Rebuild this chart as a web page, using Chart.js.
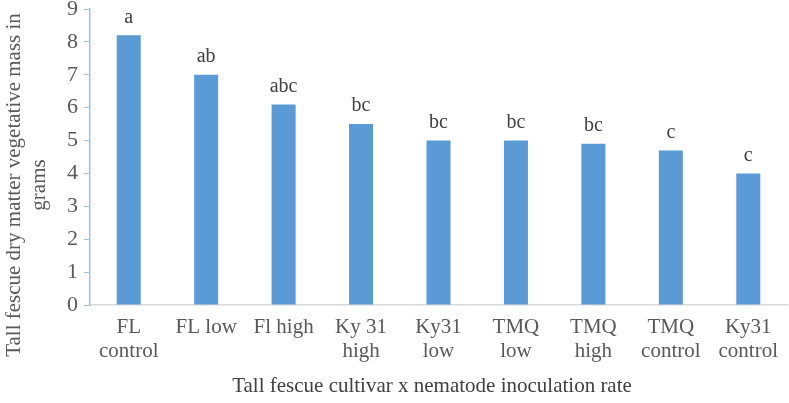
<!DOCTYPE html>
<html>
<head>
<meta charset="utf-8">
<script src="https://cdn.jsdelivr.net/npm/chart.js@4"></script>
<style>
  body { margin: 0; background: #fff; }
  #wrap { width: 789px; height: 403px; position: relative; }
</style>
</head>
<body>
<div id="wrap"><canvas id="chartCanvas"></canvas></div>
<script>
// data
var categories = [['FL', 'control'], 'FL low', 'Fl high', ['Ky 31', 'high'], ['Ky31', 'low'],
                  ['TMQ', 'low'], ['TMQ', 'high'], ['TMQ', 'control'], ['Ky31', 'control']]
var massValues = [8.2, 7.0, 6.1, 5.5, 5.0, 5.0, 4.9, 4.7, 4.0]
var letters = ['a', 'ab', 'abc', 'bc', 'bc', 'bc', 'bc', 'c', 'c']
var yTitle = ['Tall fescue dry matter vegetative mass in', 'grams']
var xTitle = 'Tall fescue cultivar x nematode inoculation rate'

var serif = '"Liberation Serif", "Times New Roman", serif'

// letters over bars + axis titles
var textPlugin = {
    id: 'textPlugin',
    afterDatasetsDraw(chart) {
        var ctx = chart.ctx
        var bars = chart.getDatasetMeta(0).data
        ctx.save()
        ctx.font = '20px ' + serif
        ctx.fillStyle = '#404040'
        ctx.textAlign = 'center'
        ctx.textBaseline = 'middle'
        bars.forEach((bar, i) => {
            ctx.fillText(letters[i], bar.x, bar.y - 18)
        })
        ctx.restore()
    },
    afterDraw(chart) {
        var ctx = chart.ctx
        ctx.save()
        ctx.font = '21px ' + serif
        ctx.fillStyle = '#595959'
        ctx.textAlign = 'center'
        ctx.textBaseline = 'middle'
        // y title, rotated
        ctx.translate(0, 185)
        ctx.rotate(-Math.PI / 2)
        ctx.fillText(yTitle[0], 0, 14)
        ctx.fillText(yTitle[1], 0, 39)
        ctx.restore()
        ctx.save()
        ctx.font = '21px ' + serif
        ctx.fillStyle = '#404040'
        ctx.textAlign = 'center'
        ctx.textBaseline = 'middle'
        ctx.fillText(xTitle, 432, 386)
        ctx.restore()
    }
}

new Chart(document.getElementById('chartCanvas'), {
    type: 'bar',
    data: {
        labels: categories,
        datasets: [{
            data: massValues,
            backgroundColor: '#5B9BD5',
            categoryPercentage: 1,
            barPercentage: 0.31
        }]
    },
    options: {
        responsive: true,
        maintainAspectRatio: false,
        animation: false,
        layout: { padding: { top: 9, right: 2 } },
        plugins: { legend: { display: false }, tooltip: { enabled: false } },
        scales: {
            x: {
                grid: { display: false, drawTicks: false },
                border: { color: '#D9D9D9', width: 1.5 },
                ticks: {
                    color: '#595959',
                    font: { family: serif, size: 21, lineHeight: 1.15 },
                    padding: 10,
                    maxRotation: 0,
                    autoSkip: false
                },
                afterFit: s => { s.height = 98; s.paddingLeft = 0; s.paddingRight = 0 }
            },
            y: {
                min: 0,
                max: 9,
                grid: { drawOnChartArea: false, drawTicks: true, tickLength: 6, color: '#9DC3E6' },
                border: { color: '#9DC3E6', width: 1.5 },
                ticks: {
                    stepSize: 1,
                    color: '#595959',
                    font: { family: serif, size: 22 },
                    padding: 6
                },
                afterFit: s => { s.width = 90; s.paddingTop = 0; s.paddingBottom = 0 }
            }
        }
    },
    plugins: [textPlugin]
})
</script>
</body>
</html>
